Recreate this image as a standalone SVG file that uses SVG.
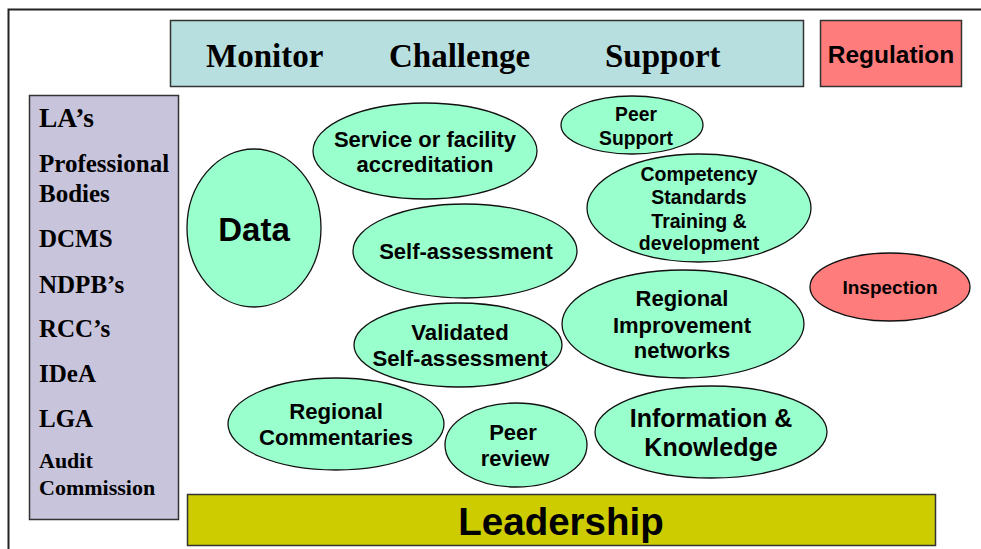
<svg xmlns="http://www.w3.org/2000/svg" width="981" height="549" viewBox="0 0 981 549">
<style>
.box{stroke:#333;stroke-width:1.5}
.ell{fill:#99ffcc;stroke:#111;stroke-width:1.3}
.red{fill:#ff7c7c}
.tr{font-family:"Liberation Serif","Times New Roman",serif;font-weight:bold;fill:#000}
.ar{font-family:"Liberation Sans",Arial,sans-serif;font-weight:bold;fill:#000;text-anchor:middle}
</style>
<rect width="981" height="549" fill="#fff"/>
<path d="M8.5 549 V9.5 H981" fill="none" stroke="#222" stroke-width="2"/>
<g id="top-bar">
<rect class="box" x="170.5" y="20.5" width="633" height="66" fill="#b8dfe0"/>
<text class="tr" x="206" y="67" font-size="33">Monitor</text>
<text class="tr" x="389" y="67" font-size="33">Challenge</text>
<text class="tr" x="605" y="67" font-size="33">Support</text>
</g>
<g id="regulation">
<rect class="box red" x="820.5" y="20.5" width="141" height="66"/>
<text class="ar" x="891" y="63" font-size="24.5">Regulation</text>
</g>
<g id="bodies">
<rect class="box" x="29.5" y="95.5" width="149" height="424" fill="#c8c4dc"/>
<text class="tr" x="39" y="127" font-size="27.5">LA’s</text>
<text class="tr" x="39" y="172" font-size="25">Professional</text>
<text class="tr" x="39" y="202" font-size="25">Bodies</text>
<text class="tr" x="39" y="247" font-size="25">DCMS</text>
<text class="tr" x="39" y="293" font-size="25">NDPB’s</text>
<text class="tr" x="39" y="337" font-size="25">RCC’s</text>
<text class="tr" x="39" y="382" font-size="25">IDeA</text>
<text class="tr" x="39" y="427" font-size="25">LGA</text>
<text class="tr" x="39" y="468" font-size="22">Audit</text>
<text class="tr" x="39" y="495" font-size="22">Commission</text>
</g>
<g id="leadership">
<rect class="box" x="187.5" y="494.5" width="748" height="51" fill="#cccc00"/>
<text class="ar" x="561" y="535" font-size="38.5">Leadership</text>
</g>
<g id="data">
<ellipse class="ell" cx="254" cy="228" rx="67" ry="79"/>
<text class="ar" x="254" y="241" font-size="33">Data</text>
</g>
<g id="accreditation">
<ellipse class="ell" cx="425" cy="151" rx="112" ry="48"/>
<text class="ar" x="425" y="147" font-size="22">Service or facility</text>
<text class="ar" x="425" y="172" font-size="22">accreditation</text>
</g>
<g id="peer-support">
<ellipse class="ell" cx="632" cy="125" rx="71" ry="29"/>
<text class="ar" x="636" y="121" font-size="19.3">Peer</text>
<text class="ar" x="636" y="145" font-size="19.3">Support</text>
</g>
<g id="competency">
<ellipse class="ell" cx="699" cy="208" rx="112" ry="54"/>
<text class="ar" x="699" y="181" font-size="19.5">Competency</text>
<text class="ar" x="699" y="204" font-size="19.5">Standards</text>
<text class="ar" x="699" y="228" font-size="19.5">Training &amp;</text>
<text class="ar" x="699" y="250" font-size="19.5">development</text>
</g>
<g id="self-assessment">
<ellipse class="ell" cx="465" cy="251" rx="112" ry="47"/>
<text class="ar" x="466" y="259" font-size="22">Self-assessment</text>
</g>
<g id="inspection">
<ellipse class="ell red" cx="890" cy="287" rx="80" ry="34"/>
<text class="ar" x="890" y="294" font-size="19">Inspection</text>
</g>
<g id="regional-improvement">
<ellipse class="ell" cx="683" cy="324" rx="121" ry="54"/>
<text class="ar" x="682" y="306" font-size="22">Regional</text>
<text class="ar" x="682" y="333" font-size="22">Improvement</text>
<text class="ar" x="682" y="358" font-size="22">networks</text>
</g>
<g id="validated">
<ellipse class="ell" cx="458" cy="345" rx="104" ry="42"/>
<text class="ar" x="460" y="340" font-size="22.2">Validated</text>
<text class="ar" x="460" y="366" font-size="22.2">Self-assessment</text>
</g>
<g id="regional-commentaries">
<ellipse class="ell" cx="336" cy="424" rx="108" ry="46"/>
<text class="ar" x="336" y="419" font-size="22.2">Regional</text>
<text class="ar" x="336" y="445" font-size="22.2">Commentaries</text>
</g>
<g id="peer-review">
<ellipse class="ell" cx="516" cy="445" rx="71" ry="42"/>
<text class="ar" x="513" y="440" font-size="22">Peer</text>
<text class="ar" x="515" y="466" font-size="22">review</text>
</g>
<g id="information">
<ellipse class="ell" cx="711" cy="432" rx="116" ry="46"/>
<text class="ar" x="711" y="427" font-size="25">Information &amp;</text>
<text class="ar" x="711" y="456" font-size="25">Knowledge</text>
</g>
<g id="connectors"></g>
</svg>
